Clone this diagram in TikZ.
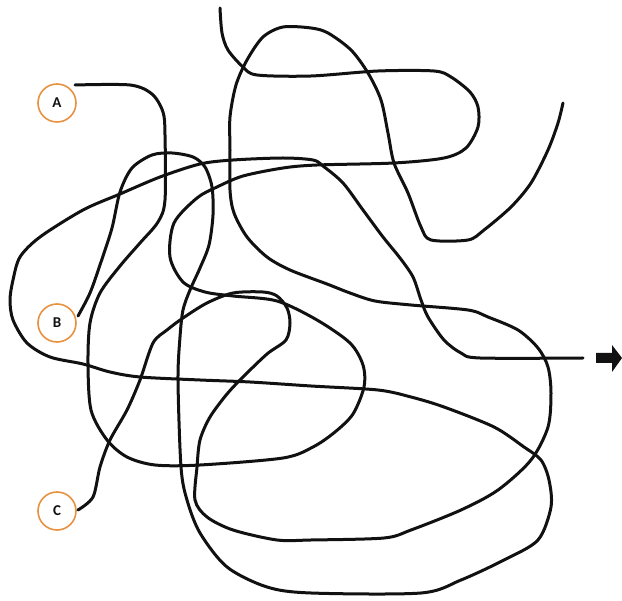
\documentclass[tikz,border=0pt]{standalone}
\usepackage{fontspec}
\setmainfont{Carlito}
\definecolor{ring}{HTML}{E8913F}
\definecolor{ink}{HTML}{111111}
\tikzset{
  letter/.style={circle, draw=ring, line width=1.6pt, minimum size=38pt, inner sep=0pt, text=ink, font=\bfseries\fontsize{15}{15}\selectfont},
  strand/.style={draw=ink, line width=3pt, line cap=round, line join=round},
}
\begin{document}
\begin{tikzpicture}[x=1pt,y=-1pt]
\useasboundingbox (0,0) rectangle (622,601);
\node[letter] (A) at (57,103) {A};
\node[letter] (B) at (57,323) {B};
\node[letter] (C) at (57,511) {C};
\coordinate (topend) at (220,8);
\coordinate (rightend) at (563,103);
\coordinate (arrowend) at (583,358);

% strand A -> top
\draw[strand] plot[smooth, tension=0.5] coordinates {
(75,85) (130,85) (152,94) (163,112) (165,135) (165,200) (158,222) (140,243) (120,266)
(100,293) (90,323) (88,363) (91,410) (107,440) (127,457) (155,465) (200,465) (283,458)
(313,447) (335,432) (353,414) (364,387) (363,365) (350,343) (317,320) (277,301) (233,296)
(205,292) (183,282) (170,257) (174,223) (197,198) (217,187) (243,176) (283,168) (317,165)
(394,163) (444,158) (466,148) (478,127) (478,107) (470,92) (451,77) (434,71) (378,71)
(311,76) (257,75) (243,67) (228,50) (222,33) (topend)};

% strand B -> arrow
\draw[strand] plot[smooth, tension=0.5] coordinates {
(78,316) (90,293) (101,262) (112,228) (120,192) (132,168) (152,155) (172,153) (193,157)
(205,167) (212,187) (213,215) (209,245) (200,268) (190,290) (183,310) (180,337) (178,380)
(181,467) (187,500) (200,533) (227,567) (267,587) (311,593) (421,593) (461,580) (504,560)
(538,540) (551,507) (549,480) (541,460) (524,447) (494,427) (444,407) (411,397) (378,390)
(311,386) (250,382) (200,380) (140,377) (110,372) (83,364) (50,357) (27,343) (13,320)
(10,300) (13,280) (20,257) (40,237) (83,210) (120,194) (160,177) (200,164) (233,160)
(283,158) (313,160) (323,166) (343,183) (363,210) (383,237) (400,258) (413,277) (421,300)
(428,317) (444,340) (461,353) (480,358) (arrowend)};

% strand C -> right end
\draw[strand] plot[smooth, tension=0.5] coordinates {
(78,510) (93,497) (100,467) (110,440) (127,410) (140,380) (153,343) (167,330) (183,318)
(207,303) (233,293) (263,292) (277,296) (287,308) (290,323) (286,340) (267,354) (243,377)
(227,394) (210,417) (200,440) (197,467) (195,500) (207,517) (233,530) (277,540) (311,540)
(384,538) (411,530) (461,510) (498,490) (531,460) (548,427) (551,393) (548,367) (538,348)
(518,330) (488,317) (468,310) (411,305) (375,301) (350,293) (327,284) (290,270) (267,257)
(247,237) (234,213) (230,190) (230,150) (230,117) (236,85) (247,60) (263,37) (283,27)
(311,28) (328,33) (351,50) (368,73) (381,100) (388,133) (394,163) (408,193) (421,227)
(431,240) (468,240) (484,230) (511,207) (531,183) (548,150) (558,123) (rightend)};

% block arrow
\fill[ink] (596,353) -- (612,353) -- (612,345) -- (622,358) -- (612,372) -- (612,363) -- (596,363) -- cycle;
\end{tikzpicture}
\end{document}
